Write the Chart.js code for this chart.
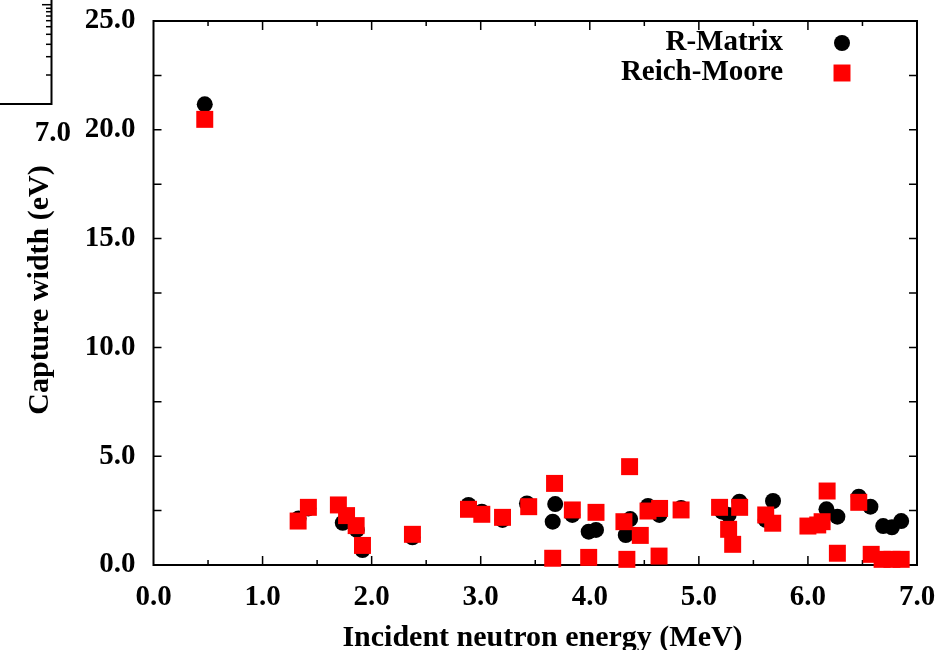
<!DOCTYPE html>
<html>
<head>
<meta charset="utf-8">
<script src="https://cdn.jsdelivr.net/npm/chart.js@4.4.1/dist/chart.umd.min.js"></script>
<style>
  html, body { margin: 0; padding: 0; background: #fff; }
  #wrap { width: 943px; height: 650px; }
</style>
</head>
<body>
<div id="wrap"><canvas id="captureChart" width="943" height="650"></canvas></div>
<script>
// R-Matrix fit: resonance energy (MeV) and capture width (eV)
const rmEnergy = [0.47, 1.33, 1.42, 1.735, 1.864, 1.916, 2.374, 2.888, 3.01, 3.2, 3.424, 3.683, 3.66, 3.84, 3.99, 4.057,
  4.37, 4.33, 4.534, 4.638, 4.837, 5.213, 5.273, 5.372, 5.68, 5.613, 6.17, 6.27, 6.466, 6.573, 6.69, 6.77, 6.855];
const rmWidth = [21.17, 2.14, 2.6, 1.94, 1.61, 0.69, 1.27, 2.76, 2.45, 2.07, 2.83, 2.8, 1.99, 2.3, 1.53, 1.61,
  2.11, 1.38, 2.71, 2.3, 2.62, 2.45, 2.3, 2.91, 2.94, 2.07, 2.56, 2.22, 3.14, 2.68, 1.79, 1.73, 2.02];

// Reich-Moore fit
const rmoEnergy = [0.47, 1.326, 1.42, 1.695, 1.77, 1.858, 1.916, 2.374, 2.888, 3.01, 3.2, 3.44, 3.677, 3.66, 3.84,
  4.057, 3.99, 4.365, 4.313, 4.463, 4.34, 4.534, 4.64, 4.635, 4.837, 5.19, 5.374, 5.273, 5.31, 5.613, 5.677,
  6.0, 6.09, 6.13, 6.176, 6.27, 6.466, 6.58, 6.68, 6.77, 6.855];
const rmoWidth = [20.48, 2.02, 2.65, 2.76, 2.27, 1.81, 0.9, 1.41, 2.56, 2.33, 2.19, 2.68, 3.75, 0.31, 2.53,
  2.42, 0.35, 4.52, 1.99, 1.36, 0.26, 2.48, 2.6, 0.41, 2.53, 2.65, 2.65, 1.64, 0.95, 2.3, 1.92,
  1.79, 1.84, 1.99, 3.4, 0.54, 2.88, 0.49, 0.26, 0.26, 0.26];

// axis ticks
const xTickLabels = ["0.0", "1.0", "2.0", "3.0", "4.0", "5.0", "6.0", "7.0"];
const yTickLabels = ["0.0", "5.0", "10.0", "15.0", "20.0", "25.0"];

const serif = "'Liberation Serif', 'Times New Roman', serif";
const labelFont = { family: serif, size: 29, weight: "bold", lineHeight: 1 };

const toPoints = (xs, ys) => xs.map((x, i) => ({ x: x, y: ys[i] }));

// frame with inward ticks on all four sides (gnuplot style)
const framePlugin = {
  id: "frame",
  beforeDatasetsDraw(chart) {
    const { ctx, chartArea: a, scales: { x, y } } = chart;
    ctx.save();
    ctx.strokeStyle = "#000";
    ctx.lineWidth = 1.5;
    for (let v = 0.5; v < 7; v += 0.5) {
      const px = x.getPixelForValue(v);
      const len = Number.isInteger(v) ? 9 : 5;
      ctx.beginPath();
      ctx.moveTo(px, a.bottom); ctx.lineTo(px, a.bottom - len);
      ctx.moveTo(px, a.top); ctx.lineTo(px, a.top + len);
      ctx.stroke();
    }
    for (let v = 2.5; v < 25; v += 2.5) {
      const py = y.getPixelForValue(v);
      ctx.beginPath();
      ctx.moveTo(a.left, py); ctx.lineTo(a.left + 8, py);
      ctx.moveTo(a.right, py); ctx.lineTo(a.right - 8, py);
      ctx.stroke();
    }
    ctx.lineWidth = 2;
    ctx.strokeRect(a.left, a.top, a.right - a.left, a.bottom - a.top);

    // leftover corner of a neighbouring panel
    ctx.lineWidth = 2;
    ctx.beginPath();
    ctx.moveTo(51.5, 0); ctx.lineTo(51.5, 104); ctx.lineTo(0, 104);
    ctx.stroke();
    ctx.lineWidth = 1.5;
    [4.7, 8.3, 11.7, 16, 20.7, 26.7, 34.3, 44.3, 56.7, 75].forEach((ty, i) => {
      ctx.beginPath();
      ctx.moveTo(51.5, ty); ctx.lineTo(i === 0 ? 42 : 46, ty);
      ctx.stroke();
    });
    ctx.restore();
  },
  afterDraw(chart) {
    const { ctx } = chart;
    ctx.save();
    ctx.fillStyle = "#000";

    // axis titles
    ctx.font = "bold 30px " + serif;
    ctx.textAlign = "center";
    ctx.textBaseline = "alphabetic";
    ctx.fillText("Incident neutron energy (MeV)", 542.5, 646);
    ctx.save();
    ctx.translate(47.5, 290);
    ctx.rotate(-Math.PI / 2);
    ctx.fillText("Capture width (eV)", 0, 0);
    ctx.restore();

    ctx.font = "bold 29px " + serif;
    ctx.textBaseline = "middle";
    // "7.0" label from the neighbouring panel
    ctx.textAlign = "right";
    ctx.fillText("7.0", 71, 134);

    // legend
    const rows = [43, 73];
    chart.data.datasets.forEach((d, i) => {
      ctx.fillStyle = "#000";
      ctx.textAlign = "right";
      ctx.fillText(d.label, 783, rows[i]);
      ctx.fillStyle = d.backgroundColor;
      if (d.pointStyle === "circle") {
        ctx.beginPath();
        ctx.arc(842, rows[i], d.pointRadius, 0, Math.PI * 2);
        ctx.fill();
      } else {
        const s = d.pointRadius * Math.SQRT1_2;
        ctx.fillRect(842 - s, rows[i] - s, 2 * s, 2 * s);
      }
    });
    ctx.restore();
  }
};

// invisible tick marks are used only to space the labels off the frame
const spacer = (len) => ({ display: true, drawOnChartArea: false, drawTicks: true, tickLength: len, tickColor: "rgba(0,0,0,0)" });

new Chart(document.getElementById("captureChart"), {
  type: "scatter",
  data: {
    datasets: [
      {
        label: "R-Matrix",
        data: toPoints(rmEnergy, rmWidth),
        pointStyle: "circle",
        pointRadius: 8,
        pointBorderWidth: 0,
        backgroundColor: "#000000",
        borderColor: "#000000",
        clip: false,
        order: 2,
      },
      {
        label: "Reich-Moore",
        data: toPoints(rmoEnergy, rmoWidth),
        pointStyle: "rect",
        pointRadius: 12,
        pointBorderWidth: 0,
        backgroundColor: "#ff0000",
        borderColor: "#ff0000",
        clip: false,
        order: 1,
      },
    ],
  },
  options: {
    responsive: false,
    animation: false,
    devicePixelRatio: 1,
    layout: { padding: { top: 21, right: 26, left: 0, bottom: 0 } },
    plugins: { legend: { display: false }, tooltip: { enabled: false } },
    scales: {
      x: {
        type: "linear",
        min: 0,
        max: 7,
        grid: spacer(18),
        border: { display: false },
        ticks: {
          stepSize: 1,
          padding: 0,
          color: "#000",
          font: labelFont,
          maxRotation: 0,
          callback: (v) => xTickLabels[Math.round(v)],
        },
        afterFit: (scale) => { scale.height = 85; },
      },
      y: {
        type: "linear",
        min: 0,
        max: 25,
        grid: spacer(18),
        border: { display: false },
        ticks: {
          stepSize: 5,
          padding: 0,
          color: "#000",
          font: labelFont,
          callback: (v) => yTickLabels[Math.round(v / 5)],
        },
        afterFit: (scale) => { scale.width = 153.5; },
      },
    },
  },
  plugins: [framePlugin],
});
</script>
</body>
</html>
